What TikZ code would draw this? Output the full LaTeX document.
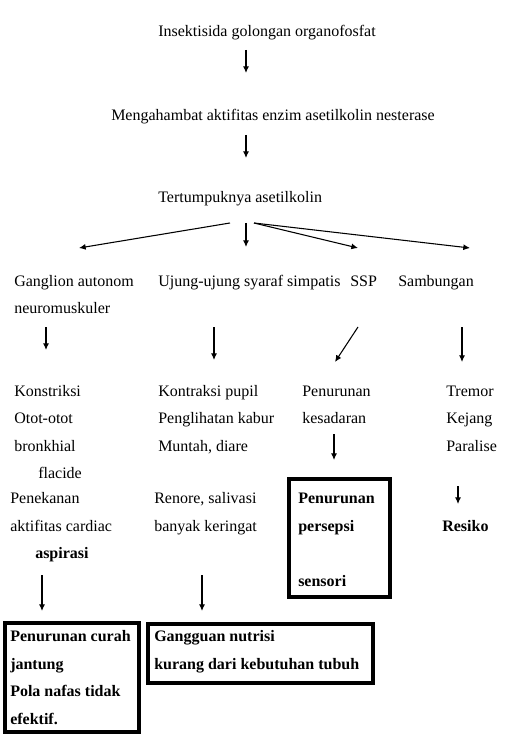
\documentclass[tikz,border=0pt]{standalone}
\usepackage{fontspec}
\setmainfont{Liberation Serif}
\usetikzlibrary{arrows.meta}
\begin{document}
\begin{tikzpicture}[x=0.75pt,y=-0.75pt,
  font=\fontsize{12}{14}\selectfont,
  txt/.style={anchor=base west, inner sep=0pt},
  btxt/.style={txt, font=\fontsize{12}{14}\selectfont\bfseries},
  arr/.style={-{Latex[length=5pt,width=4.5pt]}, line width=0.8pt},
  boxln/.style={draw, line width=3pt, inner sep=0pt, anchor=north west}]
\useasboundingbox (0,0) rectangle (510,755);

% top chain
\node[txt] (t1) at (158,37) {Insektisida golongan organofosfat};
\node[txt] (t2) at (111,121) {Mengahambat aktifitas enzim asetilkolin nesterase};
\node[txt] (t3) at (158,203) {Tertumpuknya asetilkolin};

% second row
\node[txt] (g1) at (14,286) {Ganglion autonom};
\node[txt] (g2) at (14,313) {neuromuskuler};
\node[txt] (u1) at (158,286) {Ujung-ujung syaraf simpatis};
\node[txt] (s1) at (350,286) {SSP};
\node[txt] (m1) at (398,286) {Sambungan};

% third row
\node[txt] (k1) at (14,396) {Konstriksi};
\node[txt] (k2) at (14,423) {Otot-otot};
\node[txt] (k3) at (14,451) {bronkhial};
\node[txt] (k4) at (38,478) {flacide};
\node[txt] (k5) at (10,503) {Penekanan};
\node[txt] (k6) at (10,531) {aktifitas cardiac};
\node[btxt] (k7) at (35,558) {aspirasi};

\node[txt] (p1) at (158,396) {Kontraksi pupil};
\node[txt] (p2) at (158,423) {Penglihatan kabur};
\node[txt] (p3) at (158,451) {Muntah, diare};
\node[txt] (p4) at (154,503) {Renore, salivasi};
\node[txt] (p5) at (154,531) {banyak keringat};

\node[txt] (n1) at (302,396) {Penurunan};
\node[txt] (n2) at (302,423) {kesadaran};

\node[txt] (r1) at (446,396) {Tremor};
\node[txt] (r2) at (446,423) {Kejang};
\node[txt] (r3) at (446,451) {Paralise};
\node[btxt] (r4) at (442,531) {Resiko};

% boxes
\node[boxln, minimum width=75.75pt, minimum height=88.5pt] (box3) at (287,477) {};
\node[btxt] (b31) at (298,503) {Penurunan};
\node[btxt] (b32) at (298,531) {persepsi};
\node[btxt] (b33) at (298,586) {sensori};

\node[boxln, minimum width=100.5pt, minimum height=81.75pt] (box1) at (3,621) {};
\node[btxt] (b11) at (10,641) {Penurunan curah};
\node[btxt] (b12) at (10,669) {jantung};
\node[btxt] (b13) at (10,696) {Pola nafas tidak};
\node[btxt] (b14) at (10,724) {efektif.};

\node[boxln, minimum width=168.75pt, minimum height=44.25pt] (box2) at (146,622) {};
\node[btxt] (b21) at (154,641) {Gangguan nutrisi};
\node[btxt] (b22) at (154,669) {kurang dari kebutuhan tubuh};

% arrow end points
\coordinate (a1s) at (246,50);  \coordinate (a1e) at (246,73);
\coordinate (a2s) at (246,135); \coordinate (a2e) at (246,158);
\coordinate (f1s) at (230,223); \coordinate (f1e) at (79,248);
\coordinate (f2s) at (246,223); \coordinate (f2e) at (246,247);
\coordinate (f3s) at (254,223); \coordinate (f3e) at (358,248);
\coordinate (f4e) at (470,248);
\coordinate (c1s) at (46,327);  \coordinate (c1e) at (46,350);
\coordinate (c2s) at (214,327); \coordinate (c2e) at (214,360);
\coordinate (c3s) at (358,327); \coordinate (c3e) at (335,362);
\coordinate (c4s) at (462,327); \coordinate (c4e) at (462,362);
\coordinate (d1s) at (334,434); \coordinate (d1e) at (334,460);
\coordinate (d2s) at (458,486); \coordinate (d2e) at (458,504);
\coordinate (e1s) at (42,575);  \coordinate (e1e) at (42,611);
\coordinate (e2s) at (202,575); \coordinate (e2e) at (202,611);

\draw[arr] (a1s) -- (a1e);
\draw[arr] (a2s) -- (a2e);
\draw[arr] (f1s) -- (f1e);
\draw[arr] (f2s) -- (f2e);
\draw[arr] (f3s) -- (f3e);
\draw[arr] (f3s) -- (f4e);
\draw[arr] (c1s) -- (c1e);
\draw[arr] (c2s) -- (c2e);
\draw[arr] (c3s) -- (c3e);
\draw[arr] (c4s) -- (c4e);
\draw[arr] (d1s) -- (d1e);
\draw[arr] (d2s) -- (d2e);
\draw[arr] (e1s) -- (e1e);
\draw[arr] (e2s) -- (e2e);
\end{tikzpicture}
\end{document}
